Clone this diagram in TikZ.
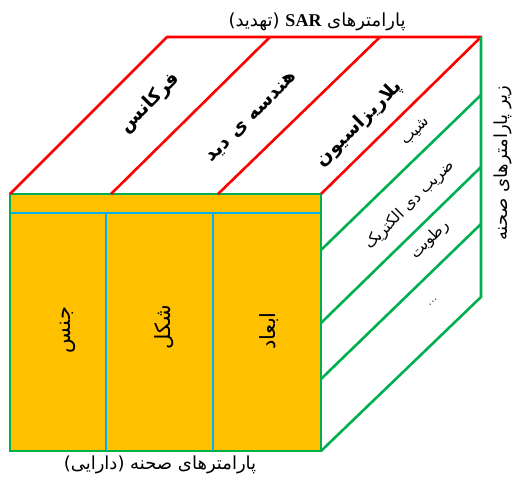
\documentclass[tikz,border=0pt]{standalone}
\usepackage{fontspec}
\TeXXeTstate=1
\newfontfamily\fa[Script=Arabic]{DejaVu Sans}
\newfontfamily\lser{Liberation Serif}
\newcommand\fatxt[1]{{\fa\beginR #1\endR}}
\definecolor{cred}{RGB}{255,0,0}
\definecolor{cgreen}{RGB}{0,176,80}
\definecolor{corange}{RGB}{255,192,0}
\definecolor{cblue}{RGB}{0,176,240}
\begin{document}
\begin{tikzpicture}[x=1pt,y=-1pt,
  redline/.style={draw=cred,line width=2.6pt},
  greenline/.style={draw=cgreen,line width=2.6pt},
  blueline/.style={draw=cblue,line width=2.4pt},
  toplbl/.style={font=\fontsize{19}{22}\selectfont\bfseries,rotate=45,inner sep=0pt},
  sidelbl/.style={font=\fontsize{15.5}{18}\selectfont,rotate=45,inner sep=0pt},
  frontlbl/.style={font=\fontsize{21}{24}\selectfont,rotate=90,inner sep=0pt},
  caplbl/.style={font=\fontsize{18}{21}\selectfont,inner sep=0pt}]
\useasboundingbox (0,0) rectangle (514,477);
% corners
\coordinate (FTL) at (10,194);
\coordinate (FTR) at (321,194);
\coordinate (FBL) at (10,451);
\coordinate (FBR) at (321,451);
\coordinate (BTL) at (167,37);
\coordinate (BTR) at (481,37);
\coordinate (BBR) at (481,297);
% top dividers
\coordinate (D1b) at (111,194);
\coordinate (D1t) at (270,37);
\coordinate (D2b) at (218,194);
\coordinate (D2t) at (380,37);
% right face dividers
\coordinate (R1a) at (321,250);
\coordinate (R1b) at (481,95);
\coordinate (R2a) at (321,323);
\coordinate (R2b) at (481,167);
\coordinate (R3a) at (321,379);
\coordinate (R3b) at (481,224);
% front inner
\coordinate (HL) at (10,213);
\coordinate (HR) at (321,213);
\coordinate (V1t) at (106,213);
\coordinate (V1b) at (106,451);
\coordinate (V2t) at (213,213);
\coordinate (V2b) at (213,451);
% front face
\fill[corange] (FTL) rectangle (FBR);
\draw[blueline] (HL) -- (HR);
\draw[blueline] (V1t) -- (V1b);
\draw[blueline] (V2t) -- (V2b);
\draw[greenline] (FTL) rectangle (FBR);
% top face
\draw[redline,line join=round] (FTL) -- (BTL) -- (BTR) -- (FTR);
\draw[redline] (D1b) -- (D1t);
\draw[redline] (D2b) -- (D2t);
% right face
\draw[greenline] (BTR) -- (BBR) -- (FBR);
\draw[greenline] (R1a) -- (R1b);
\draw[greenline] (R2a) -- (R2b);
\draw[greenline] (R3a) -- (R3b);
% top labels
\node[toplbl] (t1) at (150,103) {\fatxt{فرکانس}};
\node[toplbl] (t2) at (252,118) {\fatxt{هندسه ی دید}};
\node[toplbl] (t3) at (359,124) {\fatxt{پلاریزاسیون}};
% right labels
\node[sidelbl] (s1) at (416,132) {\fatxt{شیب}};
\node[sidelbl] (s2) at (410,205) {\fatxt{ضریب دی الکتریک}};
\node[sidelbl] (s3) at (430,240) {\fatxt{رطوبت}};
\node[sidelbl] (s4) at (433,302) {...};
% front labels
\node[frontlbl] (f1) at (68,330) {\fatxt{جنس}};
\node[frontlbl] (f2) at (164,327) {\fatxt{شکل}};
\node[frontlbl] (f3) at (269,331) {\fatxt{ابعاد}};
% captions
\node[caplbl] (c1) at (317,22) {\fa\beginR پارامترهای \beginL{\lser\bfseries SAR}\endL{} (تهدید)\endR};
\node[caplbl] (c2) at (160,465) {\fatxt{پارامترهای صحنه (دارایی)}};
\node[caplbl,rotate=90] (c3) at (503,163) {\fatxt{زیر پارامترهای صحنه}};
\end{tikzpicture}
\end{document}
